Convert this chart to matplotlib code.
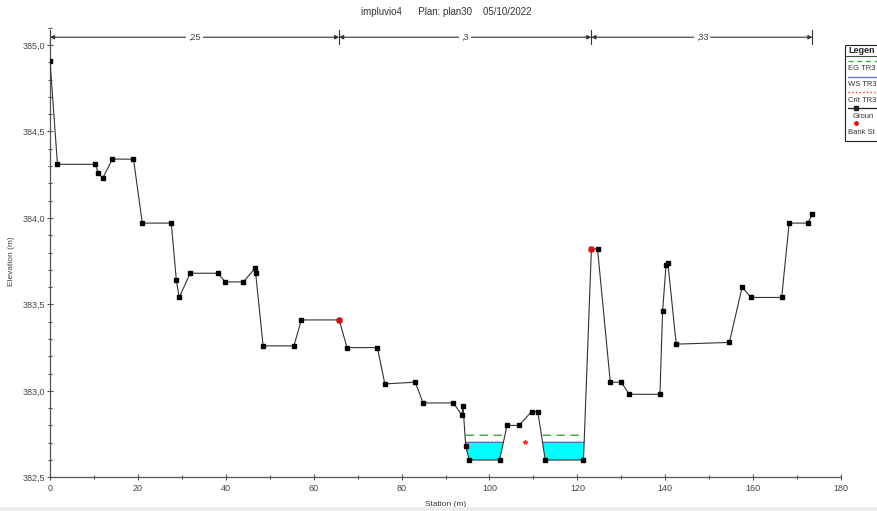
import numpy as np
import matplotlib
matplotlib.use("Agg")
import matplotlib.pyplot as plt
from matplotlib.ticker import MultipleLocator, FuncFormatter
from matplotlib.lines import Line2D
from matplotlib.patches import Rectangle

plt.rcParams["font.family"] = ["Liberation Sans", "DejaVu Sans"]

# --- Ground profile ---
STATION = [0.0, 1.7, 10.3, 11.0, 12.0, 14.2, 19.0, 21.0, 27.6, 28.75, 29.4, 31.9,
           38.2, 39.9, 44.0, 46.7, 46.8, 48.5, 55.5, 57.2, 65.8, 67.6, 74.5, 76.2,
           83.1, 84.9, 91.8, 93.7, 94.0, 94.6, 95.4, 102.3, 104.0, 106.7, 109.6,
           111.0, 112.7, 121.4, 123.2, 124.6, 127.5, 130.0, 131.8, 138.8, 139.4,
           140.2, 140.6, 142.5, 154.6, 157.5, 159.5, 166.5, 168.2, 172.4, 173.5]
ELEVATION = [384.91, 384.31, 384.31, 384.26, 384.23, 384.34, 384.34, 383.97, 383.97,
             383.64, 383.54, 383.68, 383.68, 383.63, 383.63, 383.71, 383.68, 383.26,
             383.26, 383.41, 383.41, 383.25, 383.25, 383.04, 383.05, 382.93, 382.93,
             382.86, 382.91, 382.68, 382.60, 382.60, 382.80, 382.80, 382.88, 382.88,
             382.60, 382.60, 383.82, 383.82, 383.05, 383.05, 382.98, 382.98, 383.46,
             383.73, 383.74, 383.27, 383.28, 383.60, 383.54, 383.54, 383.97, 383.97,
             384.02]

BANK_STA = [65.8, 123.2]
BANK_ELEV = [383.41, 383.82]

WS_ELEV = 382.702
EG_ELEV = 382.743
CRIT_ELEV = 382.702
CRIT_STA = 108.2

# Manning's n segments
N_VALUES = [",25", ",3", ",33"]
N_BOUNDS = [0.0, 65.8, 123.2, 173.5]

TITLE = "impluvio4      Plan: plan30    05/10/2022"
# legend labels, as far as they show before the picture edge
LEGEND_LABELS = ["EG TR3", "WS TR3", "Crit TR3", "Groun", "Bank St"]

station = np.array(STATION)
elev = np.array(ELEVATION)

fig = plt.figure(figsize=(8.77, 5.11), dpi=100)
ax = fig.add_axes([50 / 877, (511 - 477.3) / 511, 791 / 877, (477.3 - 27.7) / 511])

# --- wet area: fill between ground and WS where ground is below ---
xs = np.linspace(station.min(), station.max(), 4000)
gs = np.interp(xs, station, elev)
wet = gs < WS_ELEV
ax.fill_between(xs, gs, WS_ELEV, where=wet, color="#00ffff", linewidth=0, zorder=1)
ax.plot(xs, np.where(wet, EG_ELEV, np.nan), color="#3aa63a", lw=1.0, dashes=(6, 4), zorder=2)
ax.plot(xs, np.where(wet, CRIT_ELEV, np.nan), color="#ff3030", lw=1.0, ls=":", zorder=2)
ax.plot(xs, np.where(wet, WS_ELEV, np.nan), color="#5b6bd0", lw=0.9, zorder=3)
ax.plot([CRIT_STA], [CRIT_ELEV], marker="*", color="#ff3030", ms=3, zorder=3)

# --- ground ---
ax.plot(station, elev, color="#333333", lw=0.8, marker="s", ms=2.5,
        mfc="black", mec="black", zorder=4)
ax.plot(BANK_STA, BANK_ELEV, ls="none", marker="o", ms=3.5, color="#e01010", zorder=5)

# --- Manning's n bar on top ---
y_n = 385.045
for i, label in enumerate(N_VALUES):
    x0, x1 = N_BOUNDS[i], N_BOUNDS[i + 1]
    ax.annotate("", xy=(x0, y_n), xytext=(x1, y_n),
                arrowprops=dict(arrowstyle="<|-|>", color="#333333", lw=0.8,
                                mutation_scale=6, shrinkA=0, shrinkB=0),
                annotation_clip=False)
    ax.text((x0 + x1) / 2, y_n, label, ha="center", va="center", fontsize=6.5,
            color="#444444", bbox=dict(fc="white", ec="none", pad=1.5), zorder=6)
for xb in N_BOUNDS:
    ax.plot([xb, xb], [385.006, 385.087], color="#333333", lw=0.8, clip_on=False)

# --- axes styling ---
for side in ("top", "right"):
    ax.spines[side].set_visible(False)
for side in ("left", "bottom"):
    ax.spines[side].set_color("#555555")
    ax.spines[side].set_linewidth(0.9)
ax.spines["left"].set_bounds(382.5, 385.05)

ax.xaxis.set_major_locator(MultipleLocator(20))
ax.xaxis.set_minor_locator(MultipleLocator(10))
ax.yaxis.set_major_locator(MultipleLocator(0.5))
ax.yaxis.set_minor_locator(MultipleLocator(0.1))
ax.yaxis.set_major_formatter(FuncFormatter(lambda v, p: f"{v:.1f}".replace(".", ",")))
ax.tick_params(which="both", direction="inout", colors="#555555", labelsize=6.5,
               labelcolor="#444444")
ax.tick_params(which="major", length=5, width=0.8)
ax.tick_params(which="minor", length=3, width=0.8)
ax.tick_params(axis="x", pad=2)
ax.tick_params(axis="y", pad=1)
ax.set_xlim(0, 180)
ax.set_ylim(382.5, 385.1)

ax.set_xlabel("Station (m)", fontsize=6, color="#333333", labelpad=6)
ax.set_ylabel("Elevation (m)", fontsize=6, color="#444444")
ax.yaxis.set_label_coords(-35 / 791, 0.481)

fig.text(446 / 877, 1 - 12 / 511, TITLE, ha="center", va="center", fontsize=7,
         color="#333333")

# light grey strip along the bottom edge
fig.patches.append(Rectangle((0, 0), 1, 4 / 511, transform=fig.transFigure,
                             fc="#ececec", ec="none"))

# --- HEC-RAS style legend box (runs off the right edge) ---
def fy(py):
    return 1 - py / 511

lx0 = 845 / 877
fig.patches.append(Rectangle((lx0, fy(141)), 0.2, fy(45) - fy(141),
                             transform=fig.transFigure, fc="white", ec="#222222", lw=0.8))
fig.text(lx0 + 3 / 877, fy(50.5), "Legen", fontsize=6.5, fontweight="bold",
         va="center", ha="left", color="#222222")
fig.add_artist(Line2D([lx0, 1], [fy(56)] * 2, transform=fig.transFigure,
                      color="#222222", lw=0.6))
legend_styles = [
    dict(color="#3aa63a", dashes=(4, 3), lw=0.9),
    dict(color="#5b6bd0", lw=0.9),
    dict(color="#ff3030", ls=":", lw=1.0),
    dict(color="#222222", lw=0.9, marker="s", ms=2.5, markevery=[1]),
    dict(color="#e01010", ls="none", marker="o", ms=2.5, markevery=[1]),
]
line_rows = [61, 77, 92, 108, 123]
text_rows = [69, 85, 100, 116, 132]
for label, style, yl, yt in zip(LEGEND_LABELS, legend_styles, line_rows, text_rows):
    fig.add_artist(Line2D([lx0 + 3 / 877, lx0 + 11 / 877, lx0 + 40 / 877], [fy(yl)] * 3,
                          transform=fig.transFigure, **style))
    xt = lx0 + (8 if label == "Groun" else 3) / 877
    fig.text(xt, fy(yt), label, fontsize=5.5, va="center", ha="left", color="#333333")

fig.savefig("out.png", dpi=100)
